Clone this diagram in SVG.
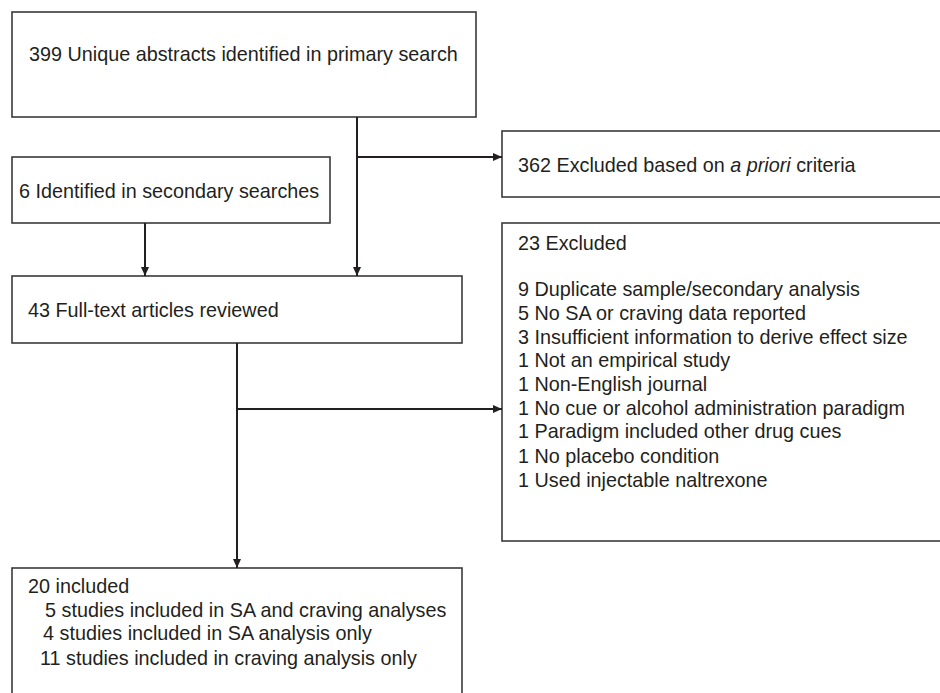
<svg xmlns="http://www.w3.org/2000/svg" width="940" height="693" viewBox="0 0 940 693">
<style>
.box{fill:#fff;stroke:#3a3a3a;stroke-width:1.6}
.ln{fill:none;stroke:#231f20;stroke-width:2}
text{font-family:"Liberation Sans",Arial,sans-serif;font-size:19.8px;fill:#231f20}
</style>
<defs>
<marker id="ah" markerWidth="10" markerHeight="10" refX="9" refY="5" orient="auto" markerUnits="userSpaceOnUse">
<path d="M0,1 L9,5 L0,9 Z" fill="#231f20"/>
</marker>
</defs>
<rect width="940" height="693" fill="#fff"/>
<g id="n399"><rect class="box" x="12" y="12" width="464" height="105"/><text x="29" y="61">399 Unique abstracts identified in primary search</text></g>
<g id="n362"><rect class="box" x="502" y="131" width="450" height="66"/><text x="518" y="172">362 Excluded based on <tspan font-style="italic">a priori</tspan> criteria</text></g>
<g id="n6"><rect class="box" x="12" y="157" width="318" height="66"/><text x="19" y="198">6 Identified in secondary searches</text></g>
<g id="n43"><rect class="box" x="12" y="276" width="450" height="67"/><text x="28" y="317">43 Full-text articles reviewed</text></g>
<g id="n23"><rect class="box" x="502" y="223" width="450" height="318"/>
<text x="518" y="250">23 Excluded</text>
<text x="518" y="296">9 Duplicate sample/secondary analysis</text>
<text x="518" y="320">5 No SA or craving data reported</text>
<text x="518" y="344">3 Insufficient information to derive effect size</text>
<text x="518" y="367">1 Not an empirical study</text>
<text x="518" y="391">1 Non-English journal</text>
<text x="518" y="415">1 No cue or alcohol administration paradigm</text>
<text x="518" y="438">1 Paradigm included other drug cues</text>
<text x="518" y="463">1 No placebo condition</text>
<text x="518" y="487">1 Used injectable naltrexone</text>
</g>
<g id="n20"><rect class="box" x="12" y="568" width="450" height="140"/>
<text x="28" y="593">20 included</text>
<text x="45" y="617">5 studies included in SA and craving analyses</text>
<text x="43" y="640">4 studies included in SA analysis only</text>
<text x="40" y="665">11 studies included in craving analysis only</text>
</g>
<g id="connectors">
<path class="ln" d="M357,117 V276" marker-end="url(#ah)"/>
<path class="ln" d="M357,157 H502" marker-end="url(#ah)"/>
<path class="ln" d="M145,223 V276" marker-end="url(#ah)"/>
<path class="ln" d="M237,343 V568" marker-end="url(#ah)"/>
<path class="ln" d="M237,409 H502" marker-end="url(#ah)"/>
</g>
</svg>
